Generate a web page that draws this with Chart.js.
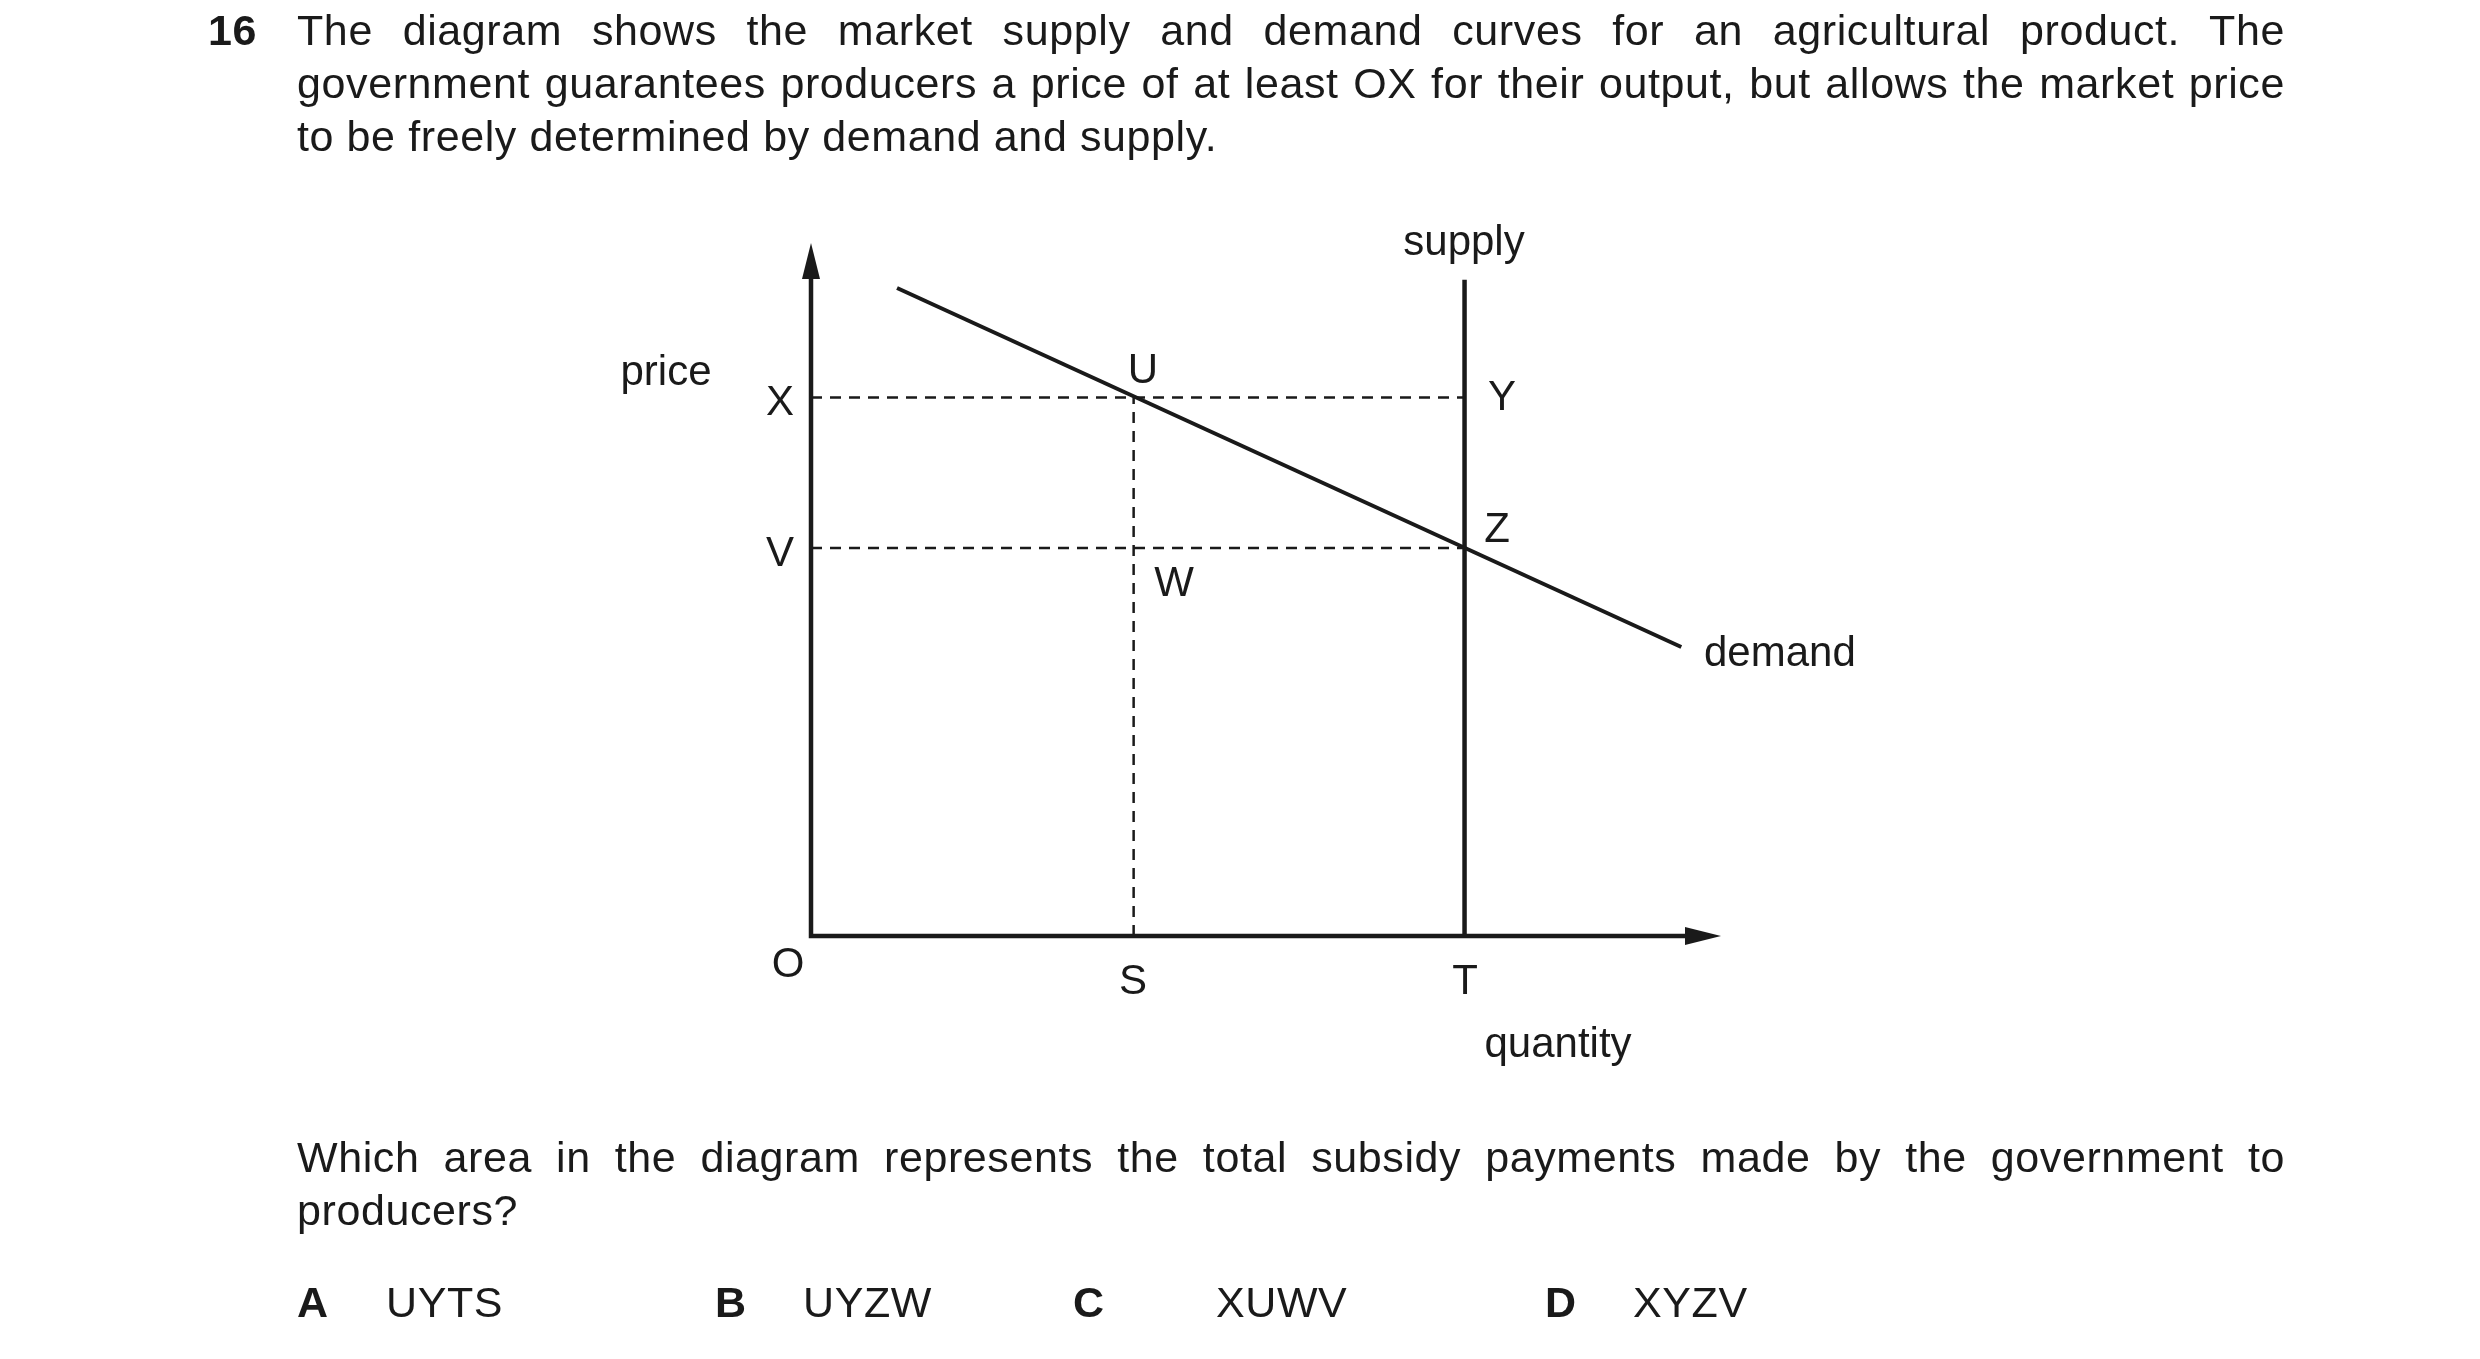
<!DOCTYPE html>
<html>
<head>
<meta charset="utf-8">
<script src="https://cdn.jsdelivr.net/npm/chart.js@4/dist/chart.umd.min.js"></script>
<style>
  body { margin: 0; background: #fff; font-family: "Liberation Sans", Arial, sans-serif; color: #1a1a1a; }
  #wrap { position: relative; width: 2480px; height: 1359px; }
  canvas { position: absolute; left: 0; top: 0; }
  .t { position: absolute; font-size: 43px; line-height: 53px; letter-spacing: 0.6px; }
  .q { left: 297px; width: 1988px; text-align: justify; text-align-last: left; }
  b { font-weight: bold; }
</style>
</head>
<body>
<div id="wrap">
  <canvas id="c" width="2480" height="1359"></canvas>
  <div class="t" style="left:208px;top:4px"><b>16</b></div>
  <div class="t q" style="top:4px">The diagram shows the market supply and demand curves for an agricultural product. The government guarantees producers a price of at least OX for their output, but allows the market price to be freely determined by demand and supply.</div>
  <div class="t q" style="top:1131px">Which area in the diagram represents the total subsidy payments made by the government to producers?</div>
  <div class="t" style="left:297px;top:1276px"><b>A</b></div>
  <div class="t" style="left:386px;top:1276px">UYTS</div>
  <div class="t" style="left:715px;top:1276px"><b>B</b></div>
  <div class="t" style="left:803px;top:1276px">UYZW</div>
  <div class="t" style="left:1073px;top:1276px"><b>C</b></div>
  <div class="t" style="left:1216px;top:1276px">XUWV</div>
  <div class="t" style="left:1545px;top:1276px"><b>D</b></div>
  <div class="t" style="left:1633px;top:1276px">XYZV</div>
</div>
<script>
// values (quantity 0..110, price 0..100)
const demandQ = [10.4, 105.2];
const demandP = [93.5, 41.7];
const supplyQ = [79, 79];
const supplyP = [0, 94.7];
const priceX = 77.7;   // level OX
const priceV = 56;     // level OV
const qtyS = 39;       // quantity OS
const qtyT = 79;       // quantity OT

const pts = (xs, ys) => xs.map((x, i) => ({ x: x, y: ys[i] }));
const ink = '#1a1a1a';

const dashStyle = { borderColor: ink, borderWidth: 2.5, borderDash: [11, 8], pointRadius: 0, showLine: true, fill: false };

// text labels, placed in pixels
const labels = [
  ['price', 666, 373, 'center'], ['X', 780, 403, 'center'], ['V', 780, 554, 'center'],
  ['U', 1143, 371, 'center'], ['Y', 1502, 398, 'center'], ['Z', 1497, 530, 'center'],
  ['W', 1174, 584, 'center'], ['demand', 1704, 654, 'left'], ['supply', 1464, 243, 'center'],
  ['O', 788, 965, 'center'], ['S', 1133, 982, 'center'], ['T', 1465, 982, 'center'],
  ['quantity', 1558, 1045, 'center']
];

const extras = {
  id: 'extras',
  afterDraw(chart) {
    const c = chart.ctx, a = chart.chartArea;
    c.save();
    c.fillStyle = ink; c.strokeStyle = ink; c.lineWidth = 4.5;
    // axes
    c.beginPath();
    c.moveTo(a.left, a.top + 20); c.lineTo(a.left, a.bottom); c.lineTo(a.right - 20, a.bottom);
    c.stroke();
    // arrowheads
    c.beginPath();
    c.moveTo(a.left, a.top); c.lineTo(a.left - 9, a.top + 36); c.lineTo(a.left + 9, a.top + 36); c.closePath(); c.fill();
    c.beginPath();
    c.moveTo(a.right, a.bottom); c.lineTo(a.right - 36, a.bottom - 9); c.lineTo(a.right - 36, a.bottom + 9); c.closePath(); c.fill();
    // labels
    c.font = '42px "Liberation Sans", Arial, sans-serif';
    c.textBaseline = 'middle';
    labels.forEach(([t, x, y, al]) => { c.textAlign = al; c.fillText(t, x, y); });
    c.restore();
  }
};

new Chart(document.getElementById('c'), {
  type: 'scatter',
  data: {
    datasets: [
      { data: pts([0, qtyT], [priceX, priceX]), ...dashStyle },
      { data: pts([0, qtyT], [priceV, priceV]), ...dashStyle },
      { data: pts([qtyS, qtyS], [0, priceX]), ...dashStyle },
      { data: pts(demandQ, demandP), borderColor: ink, borderWidth: 4, pointRadius: 0, showLine: true },
      { data: pts(supplyQ, supplyP), borderColor: ink, borderWidth: 4.5, pointRadius: 0, showLine: true }
    ]
  },
  options: {
    responsive: false,
    devicePixelRatio: 1,
    animation: false,
    layout: { padding: { left: 811, right: 759, top: 243, bottom: 423 } },
    plugins: { legend: { display: false }, tooltip: { enabled: false } },
    scales: {
      x: { type: 'linear', min: 0, max: 110, display: false },
      y: { type: 'linear', min: 0, max: 100, display: false }
    }
  },
  plugins: [extras]
});
</script>
</body>
</html>
